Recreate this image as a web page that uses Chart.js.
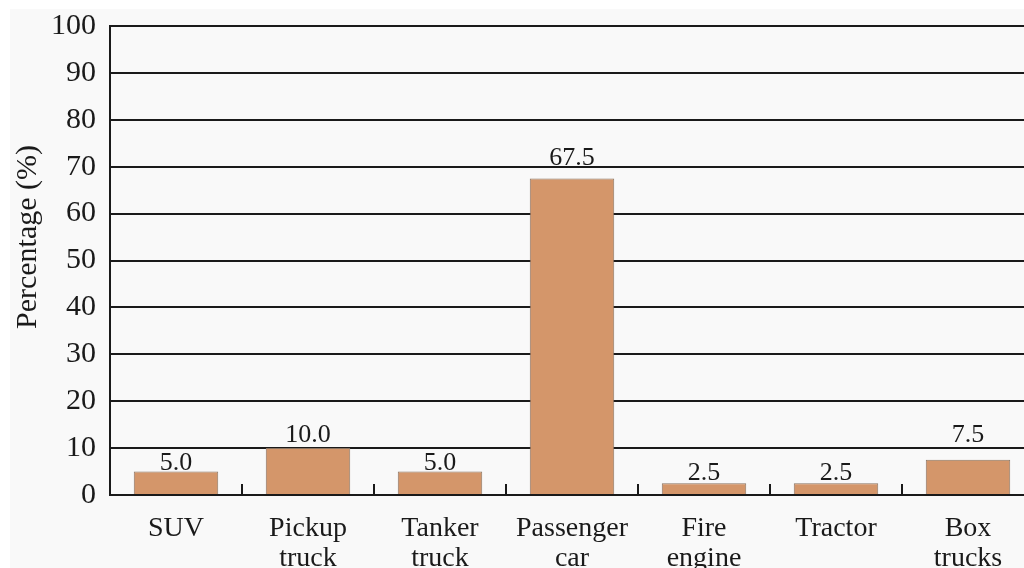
<!DOCTYPE html>
<html>
<head>
<meta charset="utf-8">
<script src="https://cdn.jsdelivr.net/npm/chart.js@4/dist/chart.umd.min.js"></script>
<style>
  html, body { margin: 0; padding: 0; background: #ffffff; overflow: hidden; width: 1024px; height: 568px; }
  #panel { position: absolute; left: 10px; top: 9px; width: 1100px; height: 700px; background: #f9f9f9; }
  #wrap { position: absolute; left: 0; top: 0; width: 1034px; height: 600px; }
</style>
</head>
<body>
<div id="panel"></div>
<div id="wrap"><canvas id="chart"></canvas></div>
<script>
// Vehicle types involved and their share (%)
const categories = [["SUV"], ["Pickup", "truck"], ["Tanker", "truck"], ["Passenger", "car"], ["Fire", "engine"], ["Tractor"], ["Box", "trucks"]];
const percentages = [5.0, 10.0, 5.0, 67.5, 2.5, 2.5, 7.5];
const yTicks = [0, 10, 20, 30, 40, 50, 60, 70, 80, 90, 100];

const SERIF = '"Liberation Serif", "DejaVu Serif", serif';
const INK = '#1a1a1a';

// Value printed above each bar (gap in px between text and bar top)
const valueLabels = {
  id: 'valueLabels',
  afterDatasetsDraw(chart, args, opts) {
    const ctx = chart.ctx;
    const meta = chart.getDatasetMeta(0);
    ctx.save();
    ctx.font = '26px ' + SERIF;
    ctx.fillStyle = INK;
    ctx.textAlign = 'center';
    ctx.textBaseline = 'alphabetic';
    meta.data.forEach((bar, i) => {
      const gap = opts.gaps[i] ?? 3;
      ctx.fillText(percentages[i].toFixed(1), bar.x, bar.y - gap);
    });
    ctx.restore();
  }
};

// Short upward tick marks on the baseline between categories
const categoryTicks = {
  id: 'categoryTicks',
  afterDatasetsDraw(chart) {
    const ctx = chart.ctx;
    const x = chart.scales.x;
    const y0 = chart.scales.y.getPixelForValue(0);
    ctx.save();
    ctx.strokeStyle = INK;
    ctx.lineWidth = 2;
    for (let i = 0; i < categories.length - 1; i++) {
      const px = Math.round((x.getPixelForValue(i) + x.getPixelForValue(i + 1)) / 2);
      ctx.beginPath();
      ctx.moveTo(px, y0);
      ctx.lineTo(px, y0 - 11);
      ctx.stroke();
    }
    ctx.restore();
  }
};

// Rotated y-axis caption
const yCaption = {
  id: 'yCaption',
  afterDraw(chart) {
    const ctx = chart.ctx;
    ctx.save();
    ctx.translate(28, 237);
    ctx.rotate(-Math.PI / 2);
    ctx.font = '30px ' + SERIF;
    ctx.fillStyle = INK;
    ctx.textAlign = 'center';
    ctx.textBaseline = 'middle';
    ctx.fillText('Percentage (%)', 0, 0);
    ctx.restore();
  }
};

new Chart(document.getElementById('chart'), {
  type: 'bar',
  data: {
    labels: categories,
    datasets: [{
      data: percentages,
      backgroundColor: '#d4966a',
      borderColor: '#8a7462',
      borderWidth: 1,
      categoryPercentage: 1.0,
      barPercentage: 0.64
    }]
  },
  options: {
    responsive: true,
    maintainAspectRatio: false,
    animation: false,
    devicePixelRatio: 1,
    layout: { padding: { left: 10, top: 26, right: 0, bottom: 0 } },
    plugins: {
      legend: { display: false },
      tooltip: { enabled: false },
      valueLabels: { gaps: [2, 6, 2, 13, 3, 3, 18] }
    },
    scales: {
      x: {
        grid: { display: true, drawOnChartArea: false, drawTicks: false },
        border: { display: true, color: INK, width: 2 },
        ticks: { color: INK, font: { family: SERIF, size: 28, lineHeight: 1.07 }, padding: 19, maxRotation: 0, autoSkip: false },
        afterFit(scale) { scale.height = 105; }
      },
      y: {
        min: 0,
        max: 100,
        afterBuildTicks(scale) { scale.ticks = yTicks.map(v => ({ value: v })); },
        grid: { color: INK, lineWidth: 2, drawTicks: false },
        border: { display: true, color: INK, width: 2 },
        ticks: { color: INK, font: { family: SERIF, size: 30 }, padding: 14 },
        afterFit(scale) {
          scale.width = 100;
          scale.paddingTop = 0;
          scale.paddingBottom = 0;
        }
      }
    }
  },
  plugins: [valueLabels, categoryTicks, yCaption]
});
</script>
</body>
</html>
